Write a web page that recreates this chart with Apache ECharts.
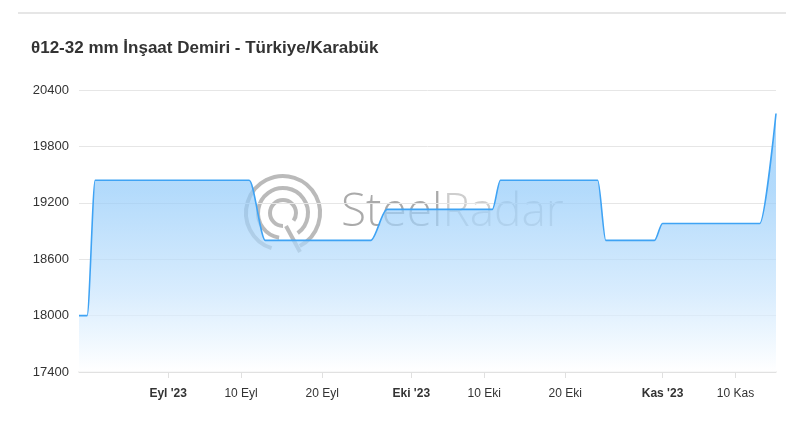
<!DOCTYPE html>
<html>
<head>
<meta charset="utf-8">
<script src="https://cdn.jsdelivr.net/npm/echarts@6/dist/echarts.min.js"></script>
<style>
html,body{margin:0;padding:0;background:#fff;}
#c{width:800px;height:432px;}
</style>
</head>
<body>
<div id="c"></div>
<script>
var titleText = "θ12-32 mm İnşaat Demiri - Türkiye/Karabük";
var dates = ["2023-08-21","2023-08-22","2023-08-23","2023-09-11","2023-09-13","2023-09-26","2023-09-28","2023-10-11","2023-10-12","2023-10-24","2023-10-25","2023-10-31","2023-11-01","2023-11-13","2023-11-15"];
var prices = [18000,18000,19440,19440,18800,18800,19130,19130,19440,19440,18800,18800,18980,18980,20150];
var tickDates = ["2023-09-01","2023-09-10","2023-09-20","2023-10-01","2023-10-10","2023-10-20","2023-11-01","2023-11-10"];
var tickLabels = ["Eyl '23","10 Eyl","20 Eyl","Eki '23","10 Eki","20 Eki","Kas '23","10 Kas"];
var tickBold = [true,false,false,true,false,false,true,false];
var yTicks = [17400,18000,18600,19200,19800,20400];

function ts(s){var p=s.split('-');return Date.UTC(+p[0],+p[1]-1,+p[2]);}
var tickTs = tickDates.map(ts);
var seriesData = dates.map(function(d,i){return [ts(d),prices[i]];});

var wm = 'rgba(140,140,140,0.6)';
var chart = echarts.init(document.getElementById('c'));
chart.setOption({
  animation:false,
  backgroundColor:'#fff',
  grid:{left:79,right:24,top:90,bottom:60},
  title:{text:titleText,left:26,top:35,textStyle:{fontFamily:'Liberation Sans, Arial, sans-serif',fontSize:17,fontWeight:'bold',color:'#333'}},
  graphic:[
    {type:'line',shape:{x1:18,y1:13,x2:786,y2:13},style:{stroke:'#dedede',lineWidth:1.5},silent:true},
    {type:'group',z:-1,silent:true,children:[
      {type:'arc',shape:{cx:283,cy:213,r:37,startAngle:Math.PI*0.6,endAngle:Math.PI*2.35},style:{stroke:wm,lineWidth:4,fill:null}},
      {type:'arc',shape:{cx:283,cy:213,r:25,startAngle:Math.PI*0.55,endAngle:Math.PI*2.3},style:{stroke:wm,lineWidth:4,fill:null}},
      {type:'arc',shape:{cx:283,cy:213,r:13,startAngle:Math.PI*0.5,endAngle:Math.PI*2.2},style:{stroke:wm,lineWidth:4,fill:null}},
      {type:'line',shape:{x1:286,y1:226,x2:300,y2:252},style:{stroke:wm,lineWidth:4}}
    ]},
    {type:'text',left:341,top:190,z:-1,silent:true,style:{text:'{a|Steel}{b|Radar}',rich:{a:{fontFamily:'Open Sans, Noto Sans, sans-serif',fontSize:46,fontWeight:300,fill:'rgba(125,125,125,0.65)'},b:{fontFamily:'Open Sans, Noto Sans, sans-serif',fontSize:46,fontWeight:300,fill:'rgba(125,125,125,0.38)'}}}}
  ],
  xAxis:{
    type:'value',
    min:ts(dates[0]),max:ts(dates[dates.length-1]),
    axisLine:{lineStyle:{color:'#e0e0e0',width:1.5}},
    axisTick:{show:true,length:6,lineStyle:{color:'#e0e0e0'},customValues:tickTs},
    splitLine:{show:false},
    axisLabel:{
      customValues:tickTs,margin:16,fontSize:12,color:'#333',
      fontFamily:'Liberation Sans, Arial, sans-serif',
      formatter:function(v){
        for(var i=0;i<tickTs.length;i++){ if(Math.abs(tickTs[i]-v)<3600000){ return tickBold[i]?'{b|'+tickLabels[i]+'}':tickLabels[i]; } }
        return '';
      },
      rich:{b:{fontWeight:'bold',fontSize:12,color:'#333',fontFamily:'Liberation Sans, Arial, sans-serif'}}
    }
  },
  yAxis:{
    type:'value',min:yTicks[0],max:yTicks[yTicks.length-1],interval:600,
    axisLine:{show:false},axisTick:{show:false},
    splitLine:{lineStyle:{color:'#e6e6e6',width:1}},
    axisLabel:{margin:10,fontSize:13,color:'#333',fontFamily:'Liberation Sans, Arial, sans-serif',formatter:function(v){return String(v);}}
  },
  series:[{
    type:'line',data:seriesData,showSymbol:false,smooth:0.3,smoothMonotone:'x',
    lineStyle:{color:'#3fa3f4',width:1.6},
    areaStyle:{color:new echarts.graphic.LinearGradient(0,0,0,1,[{offset:0,color:'#86c5f9'},{offset:0.3,color:'#93cbfa'},{offset:0.7,color:'#c9e5fd'},{offset:1,color:'#ffffff'}])}
  }]
});
</script>
</body>
</html>
